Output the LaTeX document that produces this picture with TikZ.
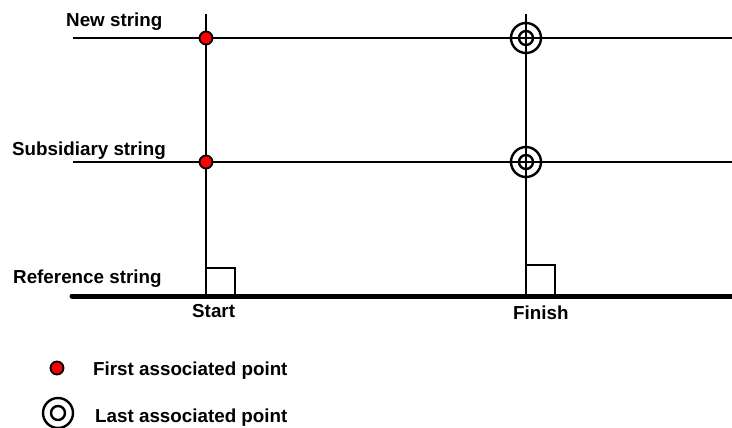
\documentclass[tikz,border=0pt]{standalone}
\usepackage{fontspec}
\setmainfont{Liberation Sans}
\usetikzlibrary{positioning}

\begin{document}
\begin{tikzpicture}[
  x=1pt, y=-1pt,
  lbl/.style={font=\fontsize{18.8}{22}\selectfont\bfseries, inner sep=0pt, anchor=base west},
  strg/.style={line width=2.4pt},
  refstrg/.style={line width=5pt},
  firstpt/.style={circle, draw, line width=1.8pt, fill=red, minimum size=13pt, inner sep=0pt},
  lastpt/.style={circle, draw, line width=2.4pt, minimum size=30pt, inner sep=0pt},
  lastin/.style={circle, draw, line width=2.4pt, minimum size=14pt, inner sep=0pt}
]
  \useasboundingbox (0,0) rectangle (732,428);

  % strings
  \coordinate (newL) at (73,38);   \coordinate (newR) at (732,38);
  \coordinate (subL) at (73,162);  \coordinate (subR) at (732,162);
  \coordinate (refL) at (72,296);  \coordinate (refR) at (732,296);
  \draw[strg] (newL) -- (newR);
  \draw[strg] (subL) -- (subR);
  \draw[refstrg, line cap=round] (refL) -- (refR);

  % start and finish verticals
  \coordinate (startT) at (206,14);  \coordinate (startB) at (206,296);
  \coordinate (finT) at (526,14);    \coordinate (finB) at (526,296);
  \draw[strg] (startT) -- (startB);
  \draw[strg] (finT) -- (finB);

  % right angle marks
  \draw[strg] (startB) rectangle (235,268);
  \draw[strg] (finB) rectangle (555,265);

  % associated points
  \node[firstpt] (s1) at (206,38) {};
  \node[firstpt] (s2) at (206,162) {};
  \node[lastpt] (f1) at (526,38) {};
  \node[lastin] at (f1) {};
  \node[lastpt] (f2) at (526,162) {};
  \node[lastin] at (f2) {};

  % labels
  \node[lbl] (newlbl) at (66,27) {New string};
  \node[lbl] (sublbl) at (12,155) {Subsidiary string};
  \node[lbl] (reflbl) at (13,283) {Reference string};
  \node[lbl] (startlbl) at (192,317) {Start};
  \node[lbl] (finlbl) at (513,319) {Finish};

  % legend
  \node[firstpt] (legfirst) at (57,368) {};
  \node[lbl] (legfirsttxt) at (93,375) {First associated point};
  \node[lastpt] (leglast) at (58,413) {};
  \node[lastin] at (leglast) {};
  \node[lbl] (leglasttxt) at (95,422) {Last associated point};
\end{tikzpicture}
\end{document}
